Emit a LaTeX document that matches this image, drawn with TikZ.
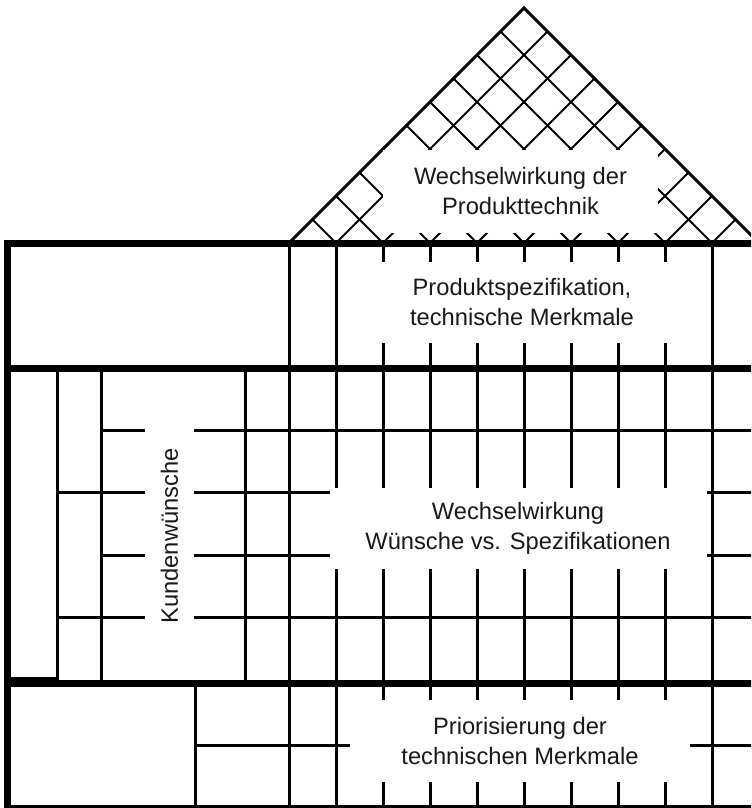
\documentclass[tikz,border=0pt]{standalone}
\usepackage{fontspec}
\setmainfont{Liberation Sans}
\usepackage{xcolor}
\definecolor{HouseLine}{RGB}{0,0,0}
\definecolor{LabelText}{RGB}{25,25,25}
\usetikzlibrary{positioning}
\tikzset{
  % Thick outer wall and section borders
  wall/.style={
    draw=HouseLine,
    line width=3.5pt
  },
  % Thin cell line
  cell/.style={
    draw=HouseLine,
    line width=1.5pt
  },
  % Roof outline
  roof/.style={
    draw=HouseLine,
    line width=1.5pt,
    line join=miter
  },
  % Roof lattice
  lattice/.style={
    draw=HouseLine,
    line width=1pt
  },
  % White label field
  field/.style={
    fill=white,
    inner sep=0pt,
    align=center,
    text=LabelText,
    font=\fontsize{11.85}{15}\selectfont
  }
}

\begin{document}
\begin{tikzpicture}[x=0.5pt, y=-0.5pt]
  \useasboundingbox (0,0) rectangle (751,808);
  \clip (0,0) rectangle (751,808);
  % Roof lattice
  \foreach \k in {1,...,9} {
    \draw[lattice] (289+47*\k,243) -- ++({(470-47*\k)/2},{-(470-47*\k)/2});
    \draw[lattice] (289+47*\k,243) -- ++({-47*\k/2},{-47*\k/2});
  }
  \draw[roof] (289,243) -- (524,8) -- (759,243);
  % Columns of the technical features
  \foreach \k in {0,...,9} {
    \draw[cell] (289+47*\k,243) -- (289+47*\k,806);
  }
  % Left columns
  \draw[cell] (57,368) -- (57,678) -- (8,678);
  \foreach \x in {101,245.7} {
    \draw[cell] (\x,368) -- (\x,683);
  }
  \draw[cell] (195,683) -- (195,806);
  % Rows
  \foreach \y in {430,555} {
    \draw[cell] (101,\y) -- (761,\y);
  }
  \foreach \y in {492.3,617.3} {
    \draw[cell] (57,\y) -- (761,\y);
  }
  \draw[cell] (195,745.7) -- (761,745.7);
  \draw[cell] (8,806) -- (761,806);
  % Walls
  \foreach \y in {243,368,683} {
    \draw[wall] (4,\y) -- (761,\y);
  }
  \draw[wall] (7.5,239.5) -- (7.5,808);
  % Labels
  \node[field, minimum width=137.5pt, minimum height=41.5pt] (roofcorr) at (520.5,191.5) {Wechselwirkung der\\Produkttechnik};
  \node[field, minimum width=155pt, minimum height=40.5pt] (specs) at (522,302.5) {Produktspezifikation,\\technische Merkmale};
  \node[field, minimum width=188.5pt, minimum height=40.8pt] (relations) at (518,528.5) {Wechselwirkung\\Wünsche vs. Spezifikationen};
  \node[field, minimum width=170pt, minimum height=41pt] (priority) at (520,741) {Priorisierung der\\technischen Merkmale};
  \node[field, rotate=90, minimum width=125pt, minimum height=24.5pt] (wishes) at (169.5,536) {Kundenwünsche};
\end{tikzpicture}
\end{document}
